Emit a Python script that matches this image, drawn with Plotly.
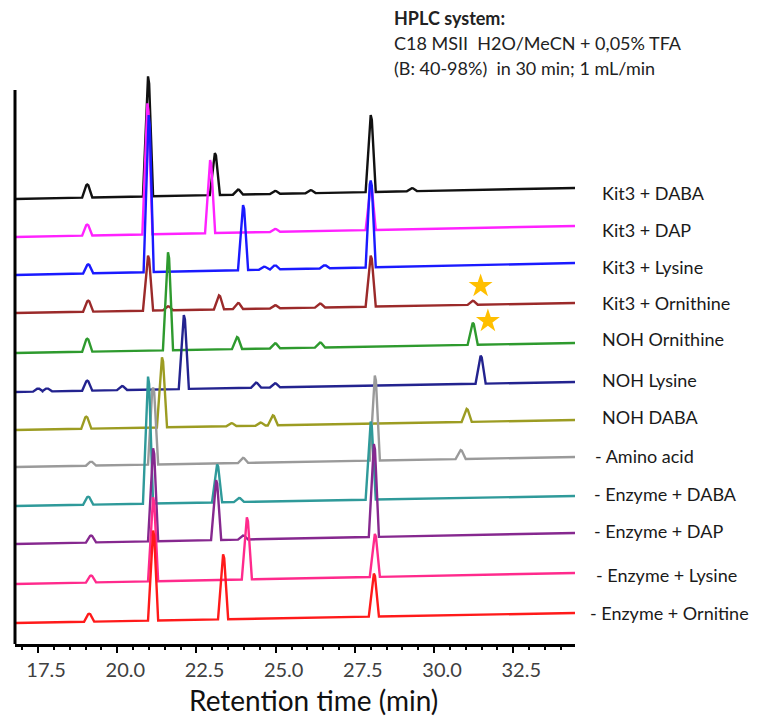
import plotly.graph_objects as go

# ---------------- data ----------------
trace_names = ["Kit3 + DABA", "Kit3 + DAP", "Kit3 + Lysine", "Kit3 + Ornithine",
               "NOH Ornithine", "NOH Lysine", "NOH DABA", "- Amino acid",
               "- Enzyme + DABA", "- Enzyme + DAP", "- Enzyme + Lysine",
               "- Enzyme + Ornitine"]
trace_colors = ["#111111", "#ff22ff", "#1a1aff", "#9b2a2a", "#2e9a2e", "#23238f",
                "#9c9c22", "#9a9a9a", "#2f9a9a", "#86288f", "#ff2a8c", "#ff1a1a"]

# baseline level (signal, arbitrary units) at start and end of run
base_start = [445, 407, 369, 331, 291, 252, 214, 177, 138, 100, 60, 21]
base_end = [456, 418, 381, 341, 301, 262, 224, 187, 148, 111, 71, 31]

# peaks: retention times (min) and heights above baseline (a.u.)
rt_kit3_daba = [19.05, 20.97, 23.08, 23.81, 24.98, 26.1, 28.0, 29.3]
h_kit3_daba = [13, 120, 42, 5, 3, 3, 77, 3]
rt_kit3_dap = [19.05, 20.95, 22.93, 24.98, 28.0]
h_kit3_dap = [11, 131, 73, 3, 45]
rt_kit3_lys = [19.08, 20.99, 23.97, 24.63, 24.98, 26.55, 28.0]
h_kit3_lys = [9, 157, 65, 3, 4, 3, 87]
rt_kit3_orn = [19.08, 20.97, 21.6, 23.21, 23.81, 24.98, 26.4, 28.0, 31.22]
h_kit3_orn = [11, 55, 4, 14, 6, 3, 4, 51, 4]
rt_noh_orn = [19.05, 21.6, 23.78, 24.98, 26.4, 31.22]
h_noh_orn = [13, 98, 12, 5, 5, 22]
rt_noh_lys = [17.5, 17.78, 19.05, 20.15, 22.1, 24.38, 24.98, 31.47]
h_noh_lys = [3, 3, 10, 4, 74, 5, 4, 28]
rt_noh_daba = [19.02, 21.41, 23.6, 24.52, 24.91, 31.03]
h_noh_daba = [12, 70, 3, 3, 10, 13]
rt_no_aa = [19.17, 21.13, 23.97, 28.13, 30.84]
h_no_aa = [4, 77, 5, 85, 9]
rt_noenz_daba = [19.08, 20.97, 23.15, 23.84, 28.0]
h_noenz_daba = [8, 127, 38, 4, 78]
rt_noenz_dap = [19.17, 21.13, 23.12, 23.97, 28.1]
h_noenz_dap = [7, 93, 60, 4, 93]
rt_noenz_lys = [19.17, 21.13, 24.09, 28.13]
h_noenz_lys = [7, 84, 62, 43]
rt_noenz_orn = [19.11, 21.13, 23.34, 28.1]
h_noenz_orn = [8, 90, 65, 43]

peak_rts = [rt_kit3_daba, rt_kit3_dap, rt_kit3_lys, rt_kit3_orn, rt_noh_orn,
            rt_noh_lys, rt_noh_daba, rt_no_aa, rt_noenz_daba, rt_noenz_dap,
            rt_noenz_lys, rt_noenz_orn]
peak_hs = [h_kit3_daba, h_kit3_dap, h_kit3_lys, h_kit3_orn, h_noh_orn,
           h_noh_lys, h_noh_daba, h_no_aa, h_noenz_daba, h_noenz_dap,
           h_noenz_lys, h_noenz_orn]

# label vertical positions (signal units) and star marks
label_y = [451, 414, 377, 341, 305, 264, 227, 188, 150, 113, 69, 31]
star_rt = [31.47, 31.70]
star_y = [358, 323]

tick_vals = [17.5, 20.0, 22.5, 25.0, 27.5, 30.0, 32.5]
tick_text = ["17.5", "20.0", "22.5", "25.0", "27.5", "30.0", "32.5"]
minor_vals = [17.0, 18.0, 18.5, 19.0, 19.5, 20.5, 21.0, 21.5, 22.0, 23.0, 23.5,
              24.0, 24.5, 25.5, 26.0, 26.5, 27.0, 28.0, 28.5, 29.0, 29.5, 30.5,
              31.0, 31.5, 32.0, 33.0, 33.5, 34.0]

T0, T1 = 16.77, 34.45
HALF_W = 0.16

fig = go.Figure()

for name, col, b0, b1, rts, hs in zip(trace_names, trace_colors, base_start,
                                      base_end, peak_rts, peak_hs):
    def base(t):
        return b0 + (b1 - b0) * (t - T0) / (T1 - T0)
    xs = [T0]
    ys = [b0]
    for rt, h in sorted(zip(rts, hs)):
        for t, add in ((rt - HALF_W, 0), (rt - 0.03, 0.95 * h), (rt, h),
                       (rt + 0.035, 0.94 * h), (rt + HALF_W, 0)):
            xs.append(t)
            ys.append(base(t) + add)
    xs.append(T1)
    ys.append(b1)
    fig.add_trace(go.Scatter(x=xs, y=ys, mode="lines", name=name,
                             line=dict(color=col, width=2.4),
                             showlegend=False, hoverinfo="skip"))

fig.add_trace(go.Scatter(x=star_rt, y=star_y, mode="markers",
                         marker=dict(symbol="star", size=18, color="#ffbf00",
                                     line=dict(width=0)),
                         showlegend=False, hoverinfo="skip"))

PL, PR, PT, PB = 15, 183, 76, 76
plot_w = 758 - PL - PR

annotations = []
label_x_px = [600, 600, 600, 600, 600, 600, 600, 593, 592, 592, 594, 588]
for txt, yv, xp in zip(trace_names, label_y, label_x_px):
    annotations.append(dict(x=(xp - PL) / plot_w, xref="paper", y=yv, yref="y",
                            text=txt, showarrow=False, xanchor="left",
                            yanchor="middle",
                            font=dict(family="Lato, Open Sans, sans-serif",
                                      size=18, color="#1a1a1a")))

title_lines = ["<b>HPLC system:</b>", "C18 MSII  H2O/MeCN + 0,05% TFA",
               "(B: 40-98%)  in 30 min; 1 mL/min"]
title_y_px = [18, 43, 68]
for txt, yp in zip(title_lines, title_y_px):
    annotations.append(dict(x=(392 - PL) / plot_w, xref="paper",
                            y=(720 - PB - yp) / (720 - PT - PB), yref="paper",
                            text=txt, showarrow=False, xanchor="left",
                            yanchor="middle",
                            font=dict(family="Lato, Open Sans, sans-serif",
                                      size=18, color="#222222")))

annotations.append(dict(x=(313 - PL) / plot_w, xref="paper",
                        y=(720 - PB - 700) / (720 - PT - PB), yref="paper",
                        text="Retention time (min)", showarrow=False,
                        xanchor="center", yanchor="middle",
                        font=dict(family="Lato, Open Sans, sans-serif",
                                  size=28, color="#111111")))

fig.update_layout(
    width=758, height=720,
    margin=dict(l=PL, r=PR, t=PT, b=PB, pad=0),
    paper_bgcolor="white", plot_bgcolor="white",
    showlegend=False,
    annotations=annotations,
    shapes=[dict(type="line", xref="paper", yref="y", x0=0, x1=0, y0=0, y1=554,
                 line=dict(color="black", width=3))],
    xaxis=dict(range=[T0, T1], showgrid=False, zeroline=False,
               showline=True, linecolor="black", linewidth=3,
               tickmode="array", tickvals=tick_vals, ticktext=tick_text,
               ticks="outside", ticklen=6, tickwidth=2, tickcolor="black",
               ticklabelshift=8,
               tickfont=dict(family="Lato, Open Sans, sans-serif", size=20,
                             color="#404040"),
               minor=dict(tickmode="array", tickvals=minor_vals, ticks="outside",
                          ticklen=3, tickwidth=1.5, tickcolor="black",
                          showgrid=False)),
    yaxis=dict(range=[0, 568], visible=False, showgrid=False, zeroline=False),
)

fig.write_html("out.html")
